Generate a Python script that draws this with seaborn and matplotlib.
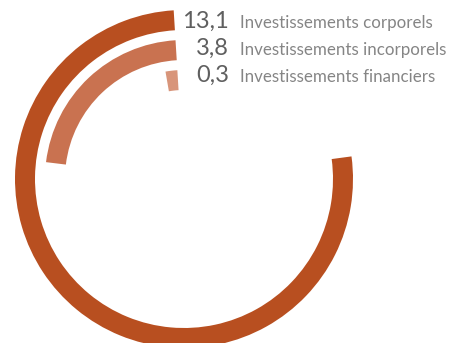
import numpy as np
import pandas as pd
import matplotlib
matplotlib.use("Agg")
import matplotlib.pyplot as plt
import seaborn as sns

# Data
categories = [
    "Investissements corporels",
    "Investissements incorporels",
    "Investissements financiers",
]
values = [13.1, 3.8, 0.3]
value_labels = ["13,1", "3,8", "0,3"]

# Styling / layout
colors = ["#B84F20", "#C97250", "#D8957A"]
ring_radius = [159, 129, 99]          # ring centre-lines, in pixels
ring_thickness = 20
W, H = 455, 343
cx, cy = 184, 179                     # ring centre (pixels from top-left)
R = 170                               # polar axes radius in pixels

sns.set_theme(style="white")
plt.rcParams["font.family"] = ["Lato", "DejaVu Sans"]

fig = plt.figure(figsize=(W / 100, H / 100), dpi=100)
ax = fig.add_axes([(cx - R) / W, (H - cy - R) / H, 2 * R / W, 2 * R / H],
                  projection="polar")
ax.set_theta_zero_location("N", offset=3.5)
ax.set_theta_direction(1)

total = sum(values)
df = pd.DataFrame({
    "category": categories,
    "angle": [2 * np.pi * v / total for v in values],
    "radius": ring_radius,
})

sns.barplot(
    data=df, x="angle", y="radius", hue="category", palette=colors,
    orient="h", native_scale=True,
    width=ring_thickness / (ring_radius[0] - ring_radius[1]),
    dodge=False, errorbar=None, legend=False, saturation=1,
    linewidth=0, ax=ax,
)
ax.set_xlim(0, 2 * np.pi)
ax.set_ylim(0, R)
ax.set_axis_off()

# Value and category labels
num_x, lab_x = 229, 240
baselines = [28, 55, 82]
for lab, num, y in zip(categories, value_labels, baselines):
    fig.text(num_x / W, 1 - y / H, num, ha="right", va="baseline",
             fontsize=17, color="#5f5f5f")
    fig.text(lab_x / W, 1 - y / H, lab, ha="left", va="baseline",
             fontsize=12.2, color="#858585")

fig.savefig("out.png", dpi=100)
